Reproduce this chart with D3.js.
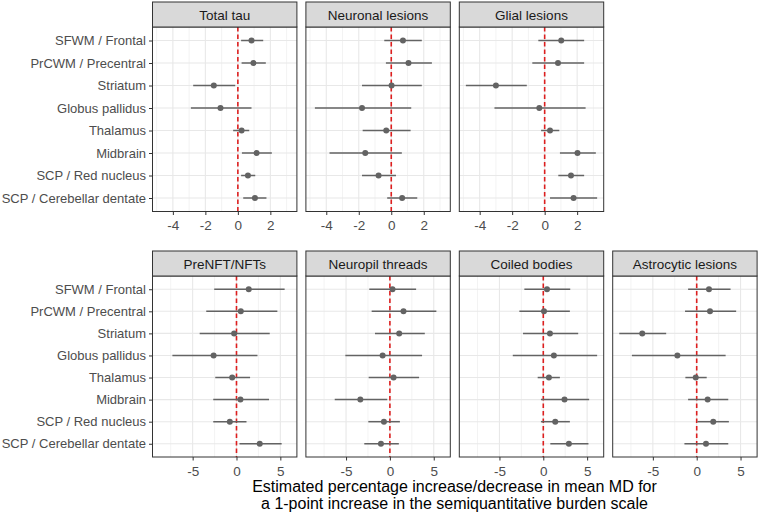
<!DOCTYPE html>
<html><head><meta charset="utf-8">
<script src="https://cdn.jsdelivr.net/npm/d3@7"></script>
<style>body{margin:0;background:#fff;} text{font-family:"Liberation Sans",Arial,sans-serif;}</style>
</head><body>
<svg id="chart" width="760" height="516"></svg>
<script>
const regions = ["SFWM / Frontal","PrCWM / Precentral","Striatum","Globus pallidus","Thalamus","Midbrain","SCP / Red nucleus","SCP / Cerebellar dentate"];
const topPanels = ["Total tau","Neuronal lesions","Glial lesions"];
const bottomPanels = ["PreNFT/NFTs","Neuropil threads","Coiled bodies","Astrocytic lesions"];
const topTicks = [-4,-2,0,2];
const bottomTicks = [-5,0,5];
const axisTitle = ["Estimated percentage increase/decrease in mean MD for","a 1-point increase in the semiquantitative burden scale"];

// estimate, lower, upper per region (in order of regions)
const totalTauEst = [0.84,0.96,-1.48,-1.07,0.23,1.15,0.62,1.05];
const totalTauLo  = [0.20,0.23,-2.75,-2.89,-0.29,0.25,0.20,0.33];
const totalTauHi  = [1.56,1.72,-0.16,0.84,0.70,2.09,1.07,1.76];

const neuronalEst = [0.72,1.06,0.02,-1.80,-0.31,-1.60,-0.78,0.67];
const neuronalLo  = [-0.43,-0.33,-1.80,-4.70,-1.76,-3.80,-1.80,-0.25];
const neuronalHi  = [1.88,2.50,1.88,1.23,1.19,0.65,0.29,1.60];

const glialEst = [1.02,0.82,-3.00,-0.33,0.33,2.02,1.62,1.78];
const glialLo  = [-0.39,-0.76,-4.85,-3.09,-0.22,0.94,0.84,0.33];
const glialHi  = [2.43,2.43,-1.10,2.52,0.90,3.15,2.43,3.23];

const prenftEst = [1.40,0.49,-0.27,-2.61,-0.49,0.45,-0.76,2.65];
const prenftLo  = [-2.54,-3.45,-4.20,-7.31,-2.42,-2.65,-2.65,0.34];
const prenftHi  = [5.49,4.66,3.79,2.39,1.55,3.71,1.14,5.15];

const neuropilEst = [0.30,1.55,1.06,-0.83,0.42,-3.37,-0.68,-1.02];
const neuropilLo  = [-2.35,-2.08,-1.70,-5.08,-2.42,-6.29,-2.46,-2.92];
const neuropilHi  = [2.99,5.30,3.98,3.67,3.33,-0.30,1.14,1.02];

const coiledEst = [0.42,0.08,0.76,1.21,0.64,2.42,1.36,2.92];
const coiledLo  = [-2.16,-2.73,-2.31,-3.48,-0.64,-0.27,-0.27,0.80];
const coiledHi  = [3.07,3.03,3.98,6.14,1.89,5.23,3.03,5.15];

const astroEst = [1.40,1.52,-6.21,-2.20,-0.11,1.25,1.89,1.06];
const astroLo  = [-0.98,-1.33,-8.83,-7.39,-1.29,-0.98,0.08,-1.40];
const astroHi  = [3.86,4.50,-3.48,3.30,1.14,3.60,3.67,3.60];

const topData = [[totalTauEst,totalTauLo,totalTauHi],[neuronalEst,neuronalLo,neuronalHi],[glialEst,glialLo,glialHi]];
const bottomData = [[prenftEst,prenftLo,prenftHi],[neuropilEst,neuropilLo,neuropilHi],[coiledEst,coiledLo,coiledHi],[astroEst,astroLo,astroHi]];

const svg = d3.select("#chart");
const panelLeft = 152.5, panelStep = 153.4, panelW = 144.4;
const grey = "#636363", red = "#dd1f1f";

function drawRow(names, data, ticks, stripTop, panelTop, panelBottom) {
  const all = data.flatMap(d => d[1].concat(d[2]));
  const mn = d3.min(all), mx = d3.max(all), pad = (mx - mn) * 0.05;
  const y = d3.scalePoint().domain(regions).range([panelTop, panelBottom]).padding(0.6);
  const step = ticks[1] - ticks[0];
  const minor = [];
  for (let v = ticks[0] - step/2; v <= ticks[ticks.length-1] + step/2 + 1e-9; v += step) minor.push(v);
  names.forEach((name, i) => {
    const x0 = panelLeft + i * panelStep;
    const x = d3.scaleLinear().domain([mn - pad, mx + pad]).range([x0, x0 + panelW]);
    const g = svg.append("g");
    g.append("rect").attr("x", x0).attr("y", panelTop).attr("width", panelW).attr("height", panelBottom - panelTop).attr("fill", "#fff");
    const minorIn = minor.filter(v => v > x.domain()[0] && v < x.domain()[1]);
    g.selectAll(".mn").data(minorIn).join("line").attr("x1", d => x(d)).attr("x2", d => x(d))
      .attr("y1", panelTop).attr("y2", panelBottom).attr("stroke", "#ebebeb").attr("stroke-width", 0.6);
    g.selectAll(".mj").data(ticks).join("line").attr("x1", d => x(d)).attr("x2", d => x(d))
      .attr("y1", panelTop).attr("y2", panelBottom).attr("stroke", "#e8e8e8").attr("stroke-width", 1.1);
    g.selectAll(".hy").data(regions).join("line").attr("x1", x0).attr("x2", x0 + panelW)
      .attr("y1", d => y(d)).attr("y2", d => y(d)).attr("stroke", "#e8e8e8").attr("stroke-width", 1.1);
    g.append("line").attr("x1", x(0)).attr("x2", x(0)).attr("y1", panelTop).attr("y2", panelBottom)
      .attr("stroke", red).attr("stroke-width", 1.6).attr("stroke-dasharray", "4.5,3");
    const [est, lo, hi] = data[i];
    g.selectAll(".eb").data(regions).join("line").attr("x1", (d, k) => x(lo[k])).attr("x2", (d, k) => x(hi[k]))
      .attr("y1", d => y(d)).attr("y2", d => y(d)).attr("stroke", grey).attr("stroke-width", 1.5);
    g.selectAll(".pt").data(regions).join("circle").attr("cx", (d, k) => x(est[k])).attr("cy", d => y(d))
      .attr("r", 3).attr("fill", grey);
    g.append("rect").attr("x", x0).attr("y", panelTop).attr("width", panelW).attr("height", panelBottom - panelTop)
      .attr("fill", "none").attr("stroke", "#333").attr("stroke-width", 1);
    // strip
    g.append("rect").attr("x", x0).attr("y", stripTop).attr("width", panelW).attr("height", panelTop - stripTop)
      .attr("fill", "#d9d9d9").attr("stroke", "#333").attr("stroke-width", 1);
    g.append("text").attr("x", x0 + panelW/2).attr("y", (stripTop + panelTop)/2 + 5).attr("text-anchor", "middle")
      .attr("font-size", 13.5).attr("fill", "#1a1a1a").text(name);
    // x axis
    const ax = g.append("g").attr("transform", `translate(0,${panelBottom})`)
      .call(d3.axisBottom(x).tickValues(ticks).tickSize(3.5).tickPadding(5.5).tickFormat(d => d < 0 ? "-" + Math.abs(d) : d));
    ax.select(".domain").remove();
    ax.selectAll("line").attr("stroke", "#333");
    ax.selectAll("text").attr("fill", "#4d4d4d").attr("font-size", 13.5).attr("font-family", "Liberation Sans, Arial, sans-serif");
    if (i === 0) {
      const ay = g.append("g").attr("transform", `translate(${x0},0)`)
        .call(d3.axisLeft(y).tickSize(3.5).tickPadding(3));
      ay.select(".domain").remove();
      ay.selectAll("line").attr("stroke", "#333");
      ay.selectAll("text").attr("fill", "#4d4d4d").attr("font-size", 13).attr("font-family", "Liberation Sans, Arial, sans-serif");
    }
  });
}

drawRow(topPanels, topData, topTicks, 2, 27, 211.5);
drawRow(bottomPanels, bottomData, bottomTicks, 251, 276, 457);

svg.selectAll(".title").data(axisTitle).join("text")
  .attr("x", 454.5).attr("y", (d, i) => 492 + i * 17).attr("text-anchor", "middle")
  .attr("font-size", 16).attr("fill", "#000").text(d => d);
</script>
</body></html>
